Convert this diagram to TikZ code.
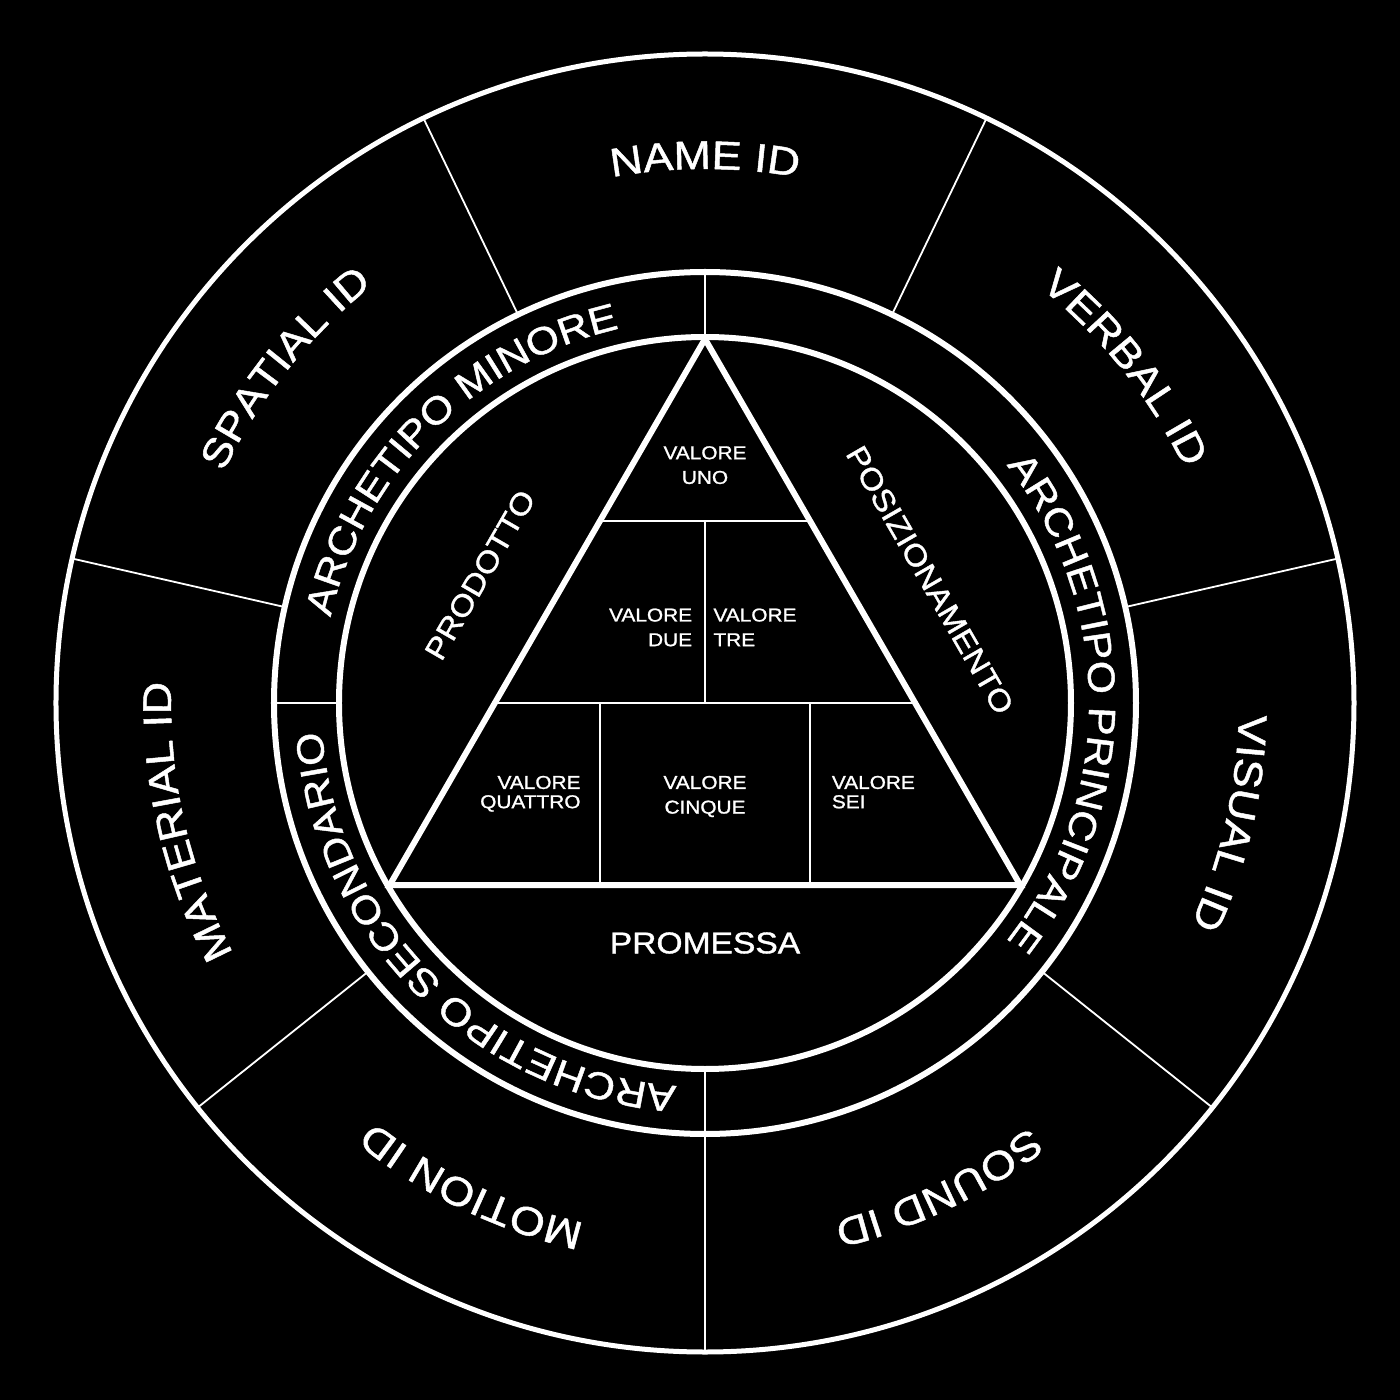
\documentclass[tikz,border=0pt]{standalone}
\usepackage{fontspec}
\setmainfont{Liberation Sans}[FakeStretch=1.12, FakeBold=1.2]
\usetikzlibrary{calc}
\usetikzlibrary{decorations.text}
\newcommand{\idfont}{\fontsize{40}{48}\selectfont}
\newcommand{\archfont}{\fontsize{38}{46}\selectfont}
\newcommand{\segfont}{\fontsize{30}{36}\selectfont}
\newcommand{\valfont}{\fontsize{18.6}{24.7}\selectfont}
\newcommand{\valtight}{\fontsize{18.6}{19.3}\selectfont}

\tikzset{
  ringline/.style={draw=white, line width=6pt},
  divider/.style={draw=white, line width=1.8pt},
  lbl/.style={text=white, inner sep=0pt},
  ringtext/.style={decorate, decoration={text along path, text color=white,
    text align=center, text={#1}}}
}

\begin{document}
\begin{tikzpicture}[x=1pt,y=1pt]
\fill[black] (-705,-697) rectangle (695,703);
\useasboundingbox (-705,-697) rectangle (695,703);

\draw[ringline, line width=5pt] (0,0) circle[radius=649pt]; %outer ring
\draw[ringline] (0,0) circle[radius=431pt]; %archetipi ring
\draw[ringline] (0,0) circle[radius=366pt];

\foreach \a in {-90,-38.57,12.86,64.29,115.71,167.14,218.57}
  \draw[divider] (\a:431pt) -- (\a:649pt); %id sectors
\foreach \a in {90,180,270}
  \draw[divider] (\a:366pt) -- (\a:431pt); %archetipi sectors

% id labels
\path[ringtext={|\idfont|NAME ID}] (115.71:534pt) arc[start angle=115.71, end angle=64.29, radius=534pt];
\path[ringtext={|\idfont|VERBAL ID}] (64.29:534pt) arc[start angle=64.29, end angle=12.86, radius=534pt];
\path[ringtext={|\idfont|VISUAL ID}] (12.86:534pt) arc[start angle=12.86, end angle=-38.57, radius=534pt];
\path[ringtext={|\idfont|SOUND ID}] (-38.57:534pt) arc[start angle=-38.57, end angle=-90, radius=534pt];
\path[ringtext={|\idfont|MOTION ID}] (-90:534pt) arc[start angle=-90, end angle=-141.43, radius=534pt];
\path[ringtext={|\idfont|MATERIAL ID}] (218.57:534pt) arc[start angle=218.57, end angle=167.14, radius=534pt];
\path[ringtext={|\idfont|SPATIAL ID}] (167.14:534pt) arc[start angle=167.14, end angle=115.71, radius=534pt];

% archetipi labels
\path[ringtext={|\archfont|ARCHETIPO MINORE}] (180:384pt) arc[start angle=180, end angle=90, radius=384pt];
\path[ringtext={|\archfont|ARCHETIPO PRINCIPALE}] (90:384pt) arc[start angle=90, end angle=-90, radius=384pt];
\path[ringtext={|\archfont|ARCHETIPO SECONDARIO}] (-90:384pt) arc[start angle=-90, end angle=-180, radius=384pt];

% triangle
\coordinate (apex) at (90:364pt);
\coordinate (bl) at (210:364pt);
\coordinate (br) at (-30:364pt);
\coordinate (l1) at ($(apex)!1/3!(bl)$);
\coordinate (r1) at ($(apex)!1/3!(br)$);
\coordinate (l2) at ($(apex)!2/3!(bl)$);
\coordinate (r2) at ($(apex)!2/3!(br)$);

\draw[divider] (l1) -- (r1); %rows
\draw[divider] (l2) -- (r2);
\draw[divider] ($(l1)!0.5!(r1)$) -- ($(l2)!0.5!(r2)$); %columns
\draw[divider] (l2 -| l1) -- (bl -| l1);
\draw[divider] (l2 -| r1) -- (bl -| r1);
\draw[ringline] (apex) -- (br) -- (bl) -- cycle;

% segment labels
\node[lbl, font=\segfont, rotate=60] (prodotto) at (-225,128) {PRODOTTO};
\node[lbl, font=\segfont, rotate=-60] (posiz) at (225,123) {POSIZIONAMENTO};
\node[lbl, font=\segfont] (promessa) at (0,-240) {PROMESSA};

% valori
\node[lbl, font=\valfont, align=center, anchor=north] (uno) at (0,257) {VALORE\\UNO};
\node[lbl, font=\valfont, align=right, anchor=north east] (due) at (-12.7,94.7) {VALORE\\DUE};
\node[lbl, font=\valfont, align=left, anchor=north west] (tre) at (8.3,94.7) {VALORE\\TRE};
\node[lbl, font=\valtight, align=right, anchor=north east] (quattro) at (-124.3,-72.7) {VALORE\\QUATTRO};
\node[lbl, font=\valfont, align=center, anchor=north] (cinque) at (0,-72.7) {VALORE\\CINQUE};
\node[lbl, font=\valtight, align=left, anchor=north west] (sei) at (126.7,-72.7) {VALORE\\SEI};
\end{tikzpicture}
\end{document}
